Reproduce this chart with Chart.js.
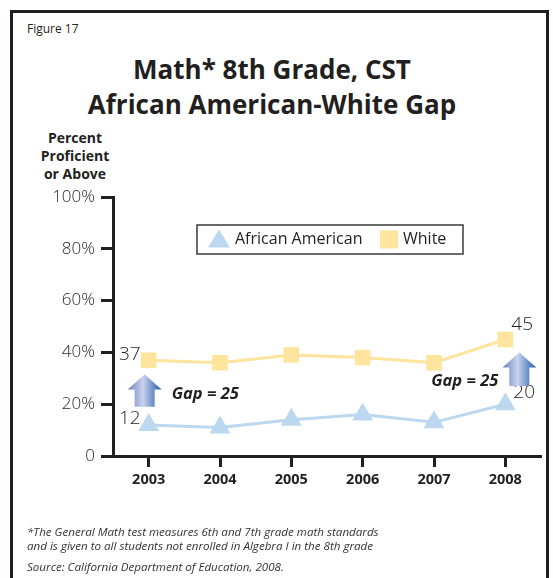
<!DOCTYPE html>
<html lang="en">
<head>
    <meta charset="UTF-8">
    <title>Math* 8th Grade, CST - African American-White Gap</title>
    <script src="https://cdn.jsdelivr.net/npm/chart.js"></script>
    <style>
        body { margin: 0; background: #fff; font-family: "Open Sans", "Noto Sans", sans-serif; color: #231f20; }
        .page { position: relative; width: 553px; height: 578px; overflow: hidden; }
        .frame { position: absolute; left: 10px; top: 10px; width: 539px; height: 600px; border: 3px solid #231f20; box-sizing: border-box; }
        .fig { position: absolute; left: 27px; top: 20px; font-size: 12px; }
        .title { position: absolute; left: 0; width: 544px; top: 52px; text-align: center; font-weight: 700; font-size: 26px; line-height: 35px; }
        .ytitle { position: absolute; left: 30px; width: 90px; top: 129px; text-align: center; font-weight: 700; font-size: 14px; line-height: 18px; }
        .note { position: absolute; left: 27px; font-style: italic; font-size: 11.6px; line-height: 14px; color: #333; }
        .chart-box { position: absolute; left: 0; top: 0; width: 553px; height: 578px; }
    </style>
</head>
<body>
<div class="page">
    <div class="frame"></div>
    <div class="fig">Figure 17</div>
    <div class="title">Math* 8th Grade, CST<br>African American-White Gap</div>
    <div class="ytitle">Percent<br>Proficient<br>or Above</div>
    <div class="chart-box"><canvas id="gapChart"></canvas></div>
    <div class="note" style="top:525px">*The General Math test measures 6th and 7th grade math standards<br>and is given to all students not enrolled in Algebra I in the 8th grade</div>
    <div class="note" style="top:560px">Source: California Department of Education, 2008.</div>
</div>

<script>
    // Data
    const years = ['2003', '2004', '2005', '2006', '2007', '2008'];
    const africanAmerican = [12, 11, 14, 16, 13, 20];
    const white = [37, 36, 39, 38, 36, 45];
    const yTicks = [0, 20, 40, 60, 80, 100];
    const seriesNames = ['African American', 'White'];

    // Gap arrows: [category index, from %, to %, x nudge px]
    const gapArrows = [[0, 19, 31.5, -4], [5, 27, 40, 14]];
    const gapLabels = [['Gap = 25', 0, 24, 23, 'left'], ['Gap = 25', 5, 28.7, -7, 'right']];

    const INK = '#231f20';
    const BLUE = '#bcd8f1';
    const YELLOW = '#fee49c';
    const FONT = '"Open Sans", "Noto Sans", sans-serif';

    // labels, arrows and the boxed legend
    const extrasPlugin = {
        id: 'extras',
        afterDatasetsDraw(chart) {
            const ctx = chart.ctx;
            const x = chart.scales.x, y = chart.scales.y;
            ctx.save();

            // end-point values
            ctx.fillStyle = INK;
            ctx.font = '300 19px ' + FONT;
            ctx.textBaseline = 'middle';
            ctx.textAlign = 'right';
            ctx.fillText(String(white[0]), x.getPixelForValue(0) - 8, y.getPixelForValue(white[0]) - 6);
            ctx.fillText(String(africanAmerican[0]), x.getPixelForValue(0) - 8, y.getPixelForValue(africanAmerican[0]) - 6);
            ctx.textAlign = 'left';
            const last = years.length - 1;
            ctx.fillText(String(white[last]), x.getPixelForValue(last) + 6, y.getPixelForValue(white[last]) - 15);
            ctx.fillText(String(africanAmerican[last]), x.getPixelForValue(last) + 8, y.getPixelForValue(africanAmerican[last]) - 12);

            // arrows
            gapArrows.forEach(([i, from, to, dx]) => {
                const cx = x.getPixelForValue(i) + dx;
                const yb = y.getPixelForValue(from), yt = y.getPixelForValue(to);
                const headH = 15, headW = 17, shaftW = 10;
                const g = ctx.createLinearGradient(cx - headW, 0, cx + headW, 0);
                g.addColorStop(0, '#6d7fc0');
                g.addColorStop(0.45, '#c9d2ee');
                g.addColorStop(1, '#1f5aa6');
                ctx.fillStyle = g;
                ctx.beginPath();
                ctx.moveTo(cx, yt);
                ctx.lineTo(cx + headW, yt + headH);
                ctx.lineTo(cx + shaftW, yt + headH);
                ctx.lineTo(cx + shaftW, yb);
                ctx.lineTo(cx - shaftW, yb);
                ctx.lineTo(cx - shaftW, yt + headH);
                ctx.lineTo(cx - headW, yt + headH);
                ctx.closePath();
                ctx.fill();
            });

            // gap text
            ctx.fillStyle = INK;
            ctx.font = 'italic 700 16.5px ' + FONT;
            gapLabels.forEach(([t, i, v, dx, align]) => {
                ctx.textAlign = align;
                ctx.fillText(t, x.getPixelForValue(i) + dx, y.getPixelForValue(v));
            });

            // legend box
            const lx = chart.chartArea.left + 84, ly = chart.chartArea.top + 28;
            ctx.strokeStyle = '#3a3a3a';
            ctx.lineWidth = 1.5;
            ctx.strokeRect(lx, ly, 266, 29);
            const my = ly + 14.5;
            ctx.fillStyle = BLUE;
            ctx.beginPath();
            ctx.moveTo(lx + 22, my - 10);
            ctx.lineTo(lx + 33, my + 8);
            ctx.lineTo(lx + 11, my + 8);
            ctx.closePath();
            ctx.fill();
            ctx.fillStyle = YELLOW;
            ctx.fillRect(lx + 183, my - 9, 18, 18);
            ctx.fillStyle = INK;
            ctx.font = '16px ' + FONT;
            ctx.textAlign = 'left';
            ctx.fillText(seriesNames[0], lx + 38, my);
            ctx.fillText(seriesNames[1], lx + 206, my);
            ctx.restore();
        }
    };

    new Chart(document.getElementById('gapChart').getContext('2d'), {
        type: 'line',
        data: {
            labels: years,
            datasets: [
                {
                    label: seriesNames[0],
                    data: africanAmerican,
                    borderColor: BLUE,
                    backgroundColor: BLUE,
                    borderWidth: 3,
                    pointStyle: 'triangle',
                    pointRadius: 12,
                    pointHoverRadius: 12,
                    pointBorderWidth: 0,
                    clip: false
                },
                {
                    label: seriesNames[1],
                    data: white,
                    borderColor: YELLOW,
                    backgroundColor: YELLOW,
                    borderWidth: 3,
                    pointStyle: 'rect',
                    pointRadius: 11,
                    pointHoverRadius: 11,
                    pointBorderWidth: 0,
                    clip: false
                }
            ]
        },
        options: {
            responsive: true,
            maintainAspectRatio: false,
            animation: false,
            layout: { padding: { left: 0, top: 197, right: 11, bottom: 82 } },
            plugins: { legend: { display: false }, tooltip: { enabled: false } },
            scales: {
                x: {
                    offset: true,
                    afterFit: s => { s.height = 40; },
                    border: { color: INK, width: 3 },
                    grid: { drawOnChartArea: false, tickLength: 11, tickWidth: 3, color: INK },
                    ticks: { color: INK, padding: 4, font: { family: FONT, size: 14.5, weight: 'bold' } }
                },
                y: {
                    min: 0,
                    max: 100,
                    afterFit: s => { s.width = 113; },
                    afterBuildTicks: s => { s.ticks = yTicks.map(v => ({ value: v })); },
                    border: { color: INK, width: 3 },
                    grid: { drawOnChartArea: false, tickLength: 12, tickWidth: 3, color: INK },
                    ticks: {
                        color: INK,
                        padding: 6,
                        font: { family: FONT, size: 17, weight: 300 },
                        callback: v => v === 0 ? '0' : v + '%'
                    }
                }
            }
        },
        plugins: [extrasPlugin]
    });
</script>
</body>
</html>
